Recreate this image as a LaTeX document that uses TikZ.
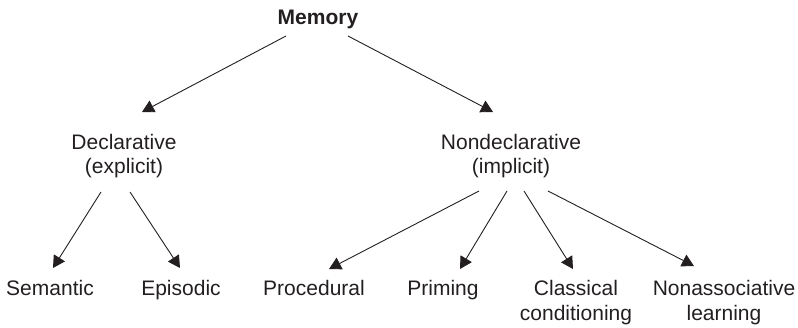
\documentclass[tikz,border=0pt]{standalone}
\usepackage{fontspec}
\setmainfont{Liberation Sans}
\usetikzlibrary{arrows.meta}
\definecolor{ink}{RGB}{35,31,32}
\tikzset{
  label/.style={inner sep=0pt, anchor=base, align=center, text=ink,
    font=\fontsize{21}{25}\selectfont},
  link/.style={draw=ink, line width=0.9pt, -{Triangle[length=12pt,width=13pt]}}
}
\begin{document}
\begin{tikzpicture}[x=1pt,y=1pt]
\useasboundingbox (0,0) rectangle (798,327);
% nodes, placed on the baseline of their last line
\node[label, font=\fontsize{21}{25}\selectfont\bfseries] (mem) at (318,302) {Memory};
\node[label] (decl) at (124,153) {Declarative\\(explicit)};
\node[label] (nd) at (511,153) {Nondeclarative\\(implicit)};
\node[label] (sem) at (50,32) {Semantic};
\node[label] (epi) at (181,32) {Episodic};
\node[label] (proc) at (314,32) {Procedural};
\node[label] (prim) at (443,32) {Priming};
\node[label] (clas) at (576,7) {Classical\\conditioning};
\node[label] (nonas) at (724,7) {Nonassociative\\learning};
% connectors
\draw[link] ([shift={(-32,-11)}]mem.base) -- ([shift={(18,62)}]decl.base);
\draw[link] ([shift={(30,-11)}]mem.base) -- ([shift={(-18,62)}]nd.base);
\draw[link] ([shift={(-23,-18)}]decl.base) -- ([shift={(3,27)}]sem.base);
\draw[link] ([shift={(6,-18)}]decl.base) -- ([shift={(-1,27)}]epi.base);
\draw[link] ([shift={(-32,-17)}]nd.base) -- ([shift={(15,26)}]proc.base);
\draw[link] ([shift={(-4,-17)}]nd.base) -- ([shift={(17,26)}]prim.base);
\draw[link] ([shift={(13,-17)}]nd.base) -- ([shift={(-3,51)}]clas.base);
\draw[link] ([shift={(37,-17)}]nd.base) -- ([shift={(-30,54)}]nonas.base);
\end{tikzpicture}
\end{document}
